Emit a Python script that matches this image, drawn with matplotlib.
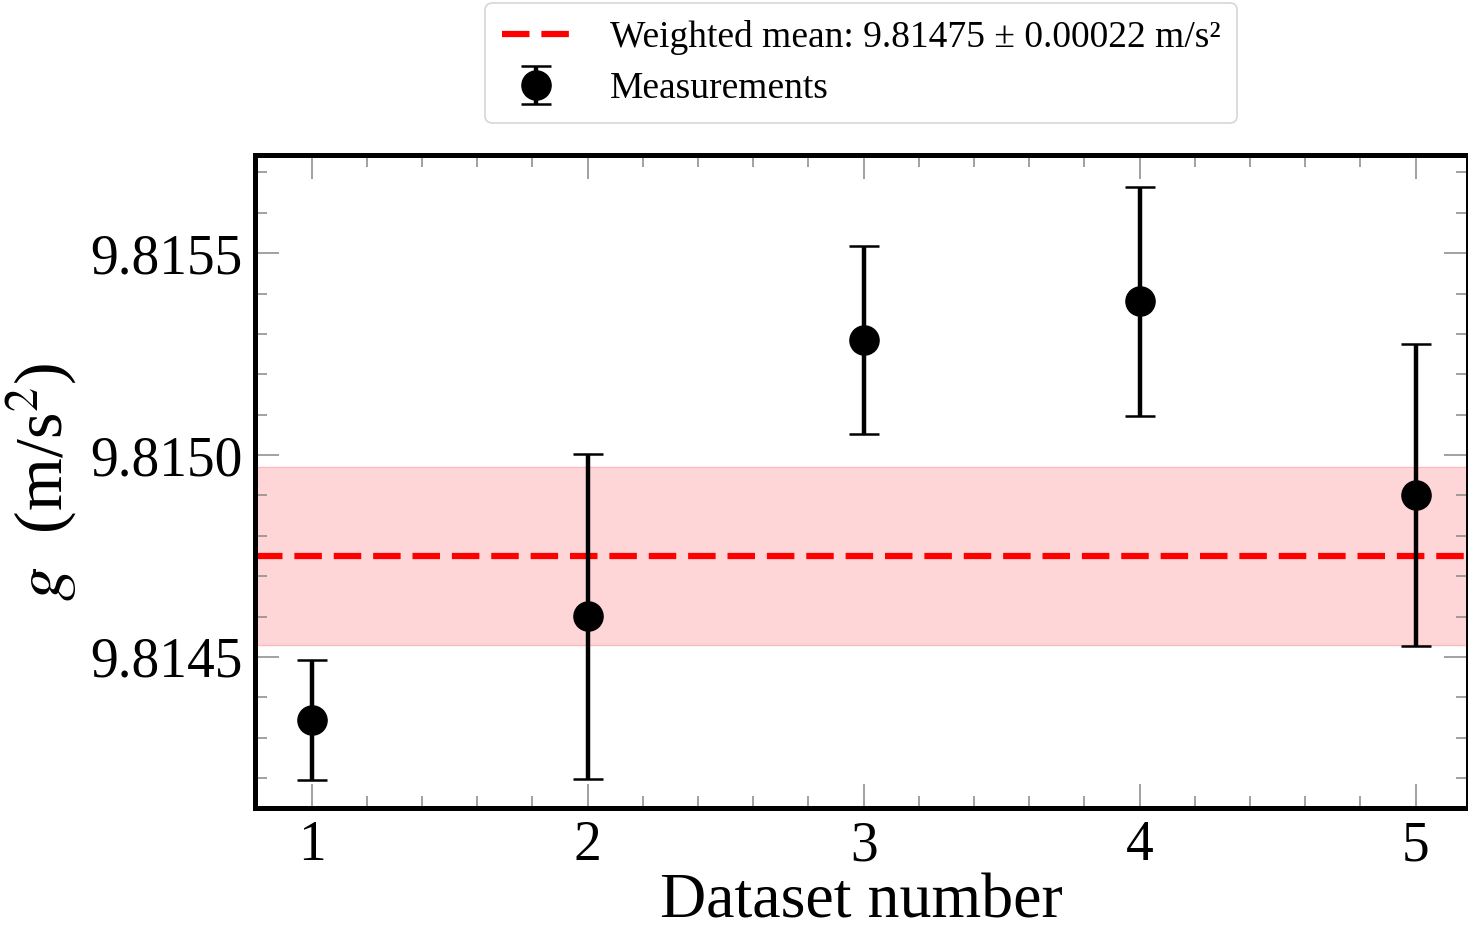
import numpy as np
import matplotlib
matplotlib.use("Agg")
import matplotlib.pyplot as plt
from matplotlib.ticker import MultipleLocator, FormatStrFormatter

plt.rcParams['font.family'] = ['Liberation Serif', 'DejaVu Serif']
plt.rcParams['mathtext.fontset'] = 'stix'

# data
datasets = [1, 2, 3, 4, 5]
g_values = [9.814344, 9.814601, 9.815285, 9.815381, 9.814901]
g_errors = [0.000148, 0.000402, 0.000232, 0.000284, 0.000373]
mean_g = 9.81475
mean_err = 0.00022

fig = plt.figure(figsize=(14.68, 9.30), dpi=100)
ax = fig.add_axes([0.1737, 0.1312, 0.8263, 0.7021])

ax.axhspan(mean_g - mean_err, mean_g + mean_err, color='#ffd6d8', alpha=1.0,
           ec='#ffb8bb', lw=1, zorder=1)
ax.axhline(mean_g, color='red', ls='--', lw=4.5, dashes=(4.4, 1.9), zorder=2,
           label=f'Weighted mean: {mean_g:.5f} ± {mean_err:.5f} m/s²')
ax.errorbar(datasets, g_values, yerr=g_errors, fmt='o', color='black',
            ms=21, elinewidth=3.2, capsize=11, capthick=1.8, zorder=3,
            label='Measurements')

ax.set_xlim(0.795, 5.19)
ax.set_ylim(9.814126, 9.815743)
ax.xaxis.set_major_locator(MultipleLocator(1))
ax.xaxis.set_minor_locator(MultipleLocator(0.2))
ax.yaxis.set_major_locator(MultipleLocator(0.0005))
ax.yaxis.set_minor_locator(MultipleLocator(0.0001))
ax.yaxis.set_major_formatter(FormatStrFormatter('%.4f'))

ax.tick_params(which='both', direction='in', top=True, right=True,
               color='#888888', labelsize=40, width=1.1)
ax.tick_params(which='major', length=17, pad=9)
ax.tick_params(which='minor', length=8.5)
for s in ax.spines.values():
    s.set_linewidth(3.6)

ax.set_xlabel('Dataset number', fontsize=46, labelpad=0.5)
ax.set_ylabel(r'$g$  (m/s$^2$)', fontsize=49, labelpad=8)

leg = ax.legend(loc='lower center', bbox_to_anchor=(0.5, 1.049), fontsize=27,
                frameon=True, fancybox=True, edgecolor='#cccccc',
                handlelength=1.8, handletextpad=1.07, borderpad=0.45,
                borderaxespad=0, labelspacing=0.45)
leg.get_frame().set_linewidth(1.2)

fig.savefig('out.png', dpi=100)
